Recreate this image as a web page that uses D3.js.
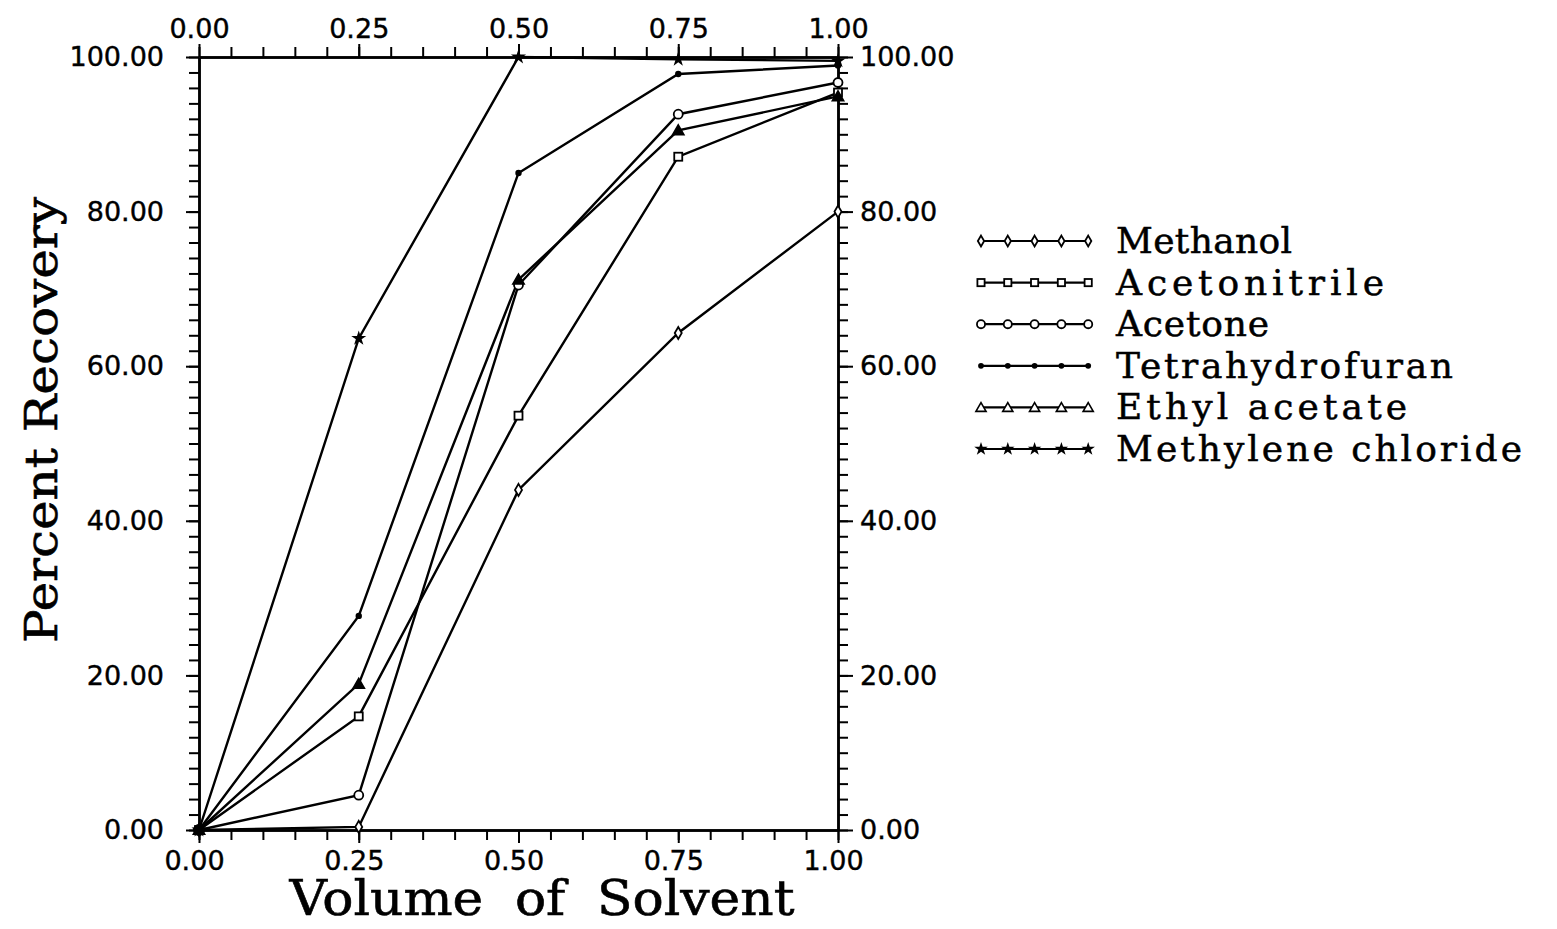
<!DOCTYPE html>
<html>
<head>
<meta charset="utf-8">
<script src="https://cdn.jsdelivr.net/npm/d3@7/dist/d3.min.js"></script>
<style>
body { margin: 0; background: #fff; }
</style>
</head>
<body>
<svg id="svg" width="1557" height="929"></svg>
<script>
// volume of solvent (x) and percent recovery for each solvent
const volume = [0, 0.25, 0.5, 0.75, 1.0]
const seriesNames = ['Methanol', 'Acetonitrile', 'Acetone', 'Tetrahydrofuran', 'Ethyl acetate', 'Methylene chloride']
const methanol = [0, 0.4, 44.0, 64.3, 80.0]
const acetonitrile = [0, 14.7, 53.6, 87.1, 95.4]
const acetone = [0, 4.5, 70.5, 92.6, 96.7]
const tetrahydrofuran = [0, 27.7, 85.0, 97.8, 98.9]
const ethylAcetate = [0, 18.9, 71.2, 90.5, 94.9]
const methyleneChloride = [0, 63.6, 100, 99.7, 99.5]
const xTicks = [0, 0.25, 0.5, 0.75, 1.0]
const yTicks = [0, 20, 40, 60, 80, 100]

const seriesValues = [methanol, acetonitrile, acetone, tetrahydrofuran, ethylAcetate, methyleneChloride]
const markerKinds = ['diamond', 'square', 'circle', 'dot', 'triangle', 'star']

let svg = d3.select('#svg')
const width = +svg.attr('width')
const height = +svg.attr('height')

const margin = { top: 57, bottom: 99, left: 199, right: 719 }
const innerWidth = width - margin.left - margin.right
const innerHeight = height - margin.top - margin.bottom

const xScale = d3.scaleLinear().domain([0, 1]).range([0, innerWidth])
const yScale = d3.scaleLinear().domain([0, 100]).range([innerHeight, 0])

const group = svg.append('g')
    .attr('transform', `translate(${margin.left}, ${margin.top})`)

const fmt = d3.format('.2f')
const xMinor = d3.range(0, 1.0001, 0.05)
const yMinor = d3.range(0, 100.001, 2)
const tickFont = "'DejaVu Sans', sans-serif"
const titleFont = "'DejaVu Serif', serif"

function styleAxis(g) {
    g.select('.domain').attr('stroke-width', 2.5)
    g.selectAll('.tick line').attr('stroke-width', 2)
    g.selectAll('.tick text')
        .attr('font-family', tickFont)
        .attr('font-size', 27)
        .attr('fill', '#000')
        .attr('stroke', '#000')
        .attr('stroke-width', 0.4)
}
// minor ticks: no labels at all
function minorOnly(g) {
    styleAxis(g)
    g.selectAll('.tick text').remove()
}

// bottom
group.append('g').attr('transform', `translate(0, ${innerHeight})`)
    .call(d3.axisBottom(xScale).tickValues(xMinor).tickSize(10).tickSizeOuter(0))
    .call(minorOnly)
group.append('g').attr('transform', `translate(0, ${innerHeight})`)
    .call(d3.axisBottom(xScale).tickValues(xTicks).tickSize(13).tickPadding(8).tickFormat(fmt).tickSizeOuter(0))
    .call(styleAxis)
    .selectAll('.tick text').attr('dx', -5)

// top
group.append('g')
    .call(d3.axisTop(xScale).tickValues(xMinor).tickSize(10).tickSizeOuter(0))
    .call(minorOnly)
group.append('g')
    .call(d3.axisTop(xScale).tickValues(xTicks).tickSize(13).tickPadding(6).tickFormat(fmt).tickSizeOuter(0))
    .call(styleAxis)

// left
group.append('g')
    .call(d3.axisLeft(yScale).tickValues(yMinor).tickSize(10).tickSizeOuter(0))
    .call(minorOnly)
group.append('g')
    .call(d3.axisLeft(yScale).tickValues(yTicks).tickSize(13).tickPadding(22).tickFormat(fmt).tickSizeOuter(0))
    .call(styleAxis)

// right
group.append('g').attr('transform', `translate(${innerWidth}, 0)`)
    .call(d3.axisRight(yScale).tickValues(yMinor).tickSize(10).tickSizeOuter(0))
    .call(minorOnly)
group.append('g').attr('transform', `translate(${innerWidth}, 0)`)
    .call(d3.axisRight(yScale).tickValues(yTicks).tickSize(15).tickPadding(7).tickFormat(fmt).tickSizeOuter(0))
    .call(styleAxis)

// axis titles
svg.append('text')
    .text('Percent Recovery')
    .attr('font-family', titleFont)
    .attr('font-size', 44)
    .attr('stroke', '#000')
    .attr('stroke-width', 0.6)
    .attr('text-anchor', 'middle')
    .attr('textLength', 446)
    .attr('lengthAdjust', 'spacingAndGlyphs')
    .attr('transform', 'translate(57, 420) rotate(-90)')

svg.append('text')
    .text('Volume of Solvent')
    .attr('font-family', titleFont)
    .attr('font-size', 48)
    .attr('word-spacing', 14)
    .attr('stroke', '#000')
    .attr('stroke-width', 0.6)
    .attr('text-anchor', 'middle')
    .attr('textLength', 505)
    .attr('lengthAdjust', 'spacingAndGlyphs')
    .attr('x', 542)
    .attr('y', 915)

function drawMarker(sel, kind, x, y, s) {
    if (kind === 'diamond') {
        sel.append('path')
            .attr('d', `M${x},${y - 6 * s}L${x + 3.5 * s},${y}L${x},${y + 6 * s}L${x - 3.5 * s},${y}Z`)
            .attr('fill', '#fff').attr('stroke', '#000').attr('stroke-width', 1.8)
    } else if (kind === 'square') {
        sel.append('rect')
            .attr('x', x - 4 * s).attr('y', y - 4 * s)
            .attr('width', 8 * s).attr('height', 8 * s)
            .attr('fill', '#fff').attr('stroke', '#000').attr('stroke-width', 1.8)
    } else if (kind === 'circle') {
        sel.append('circle')
            .attr('cx', x).attr('cy', y).attr('r', 4.5 * s)
            .attr('fill', '#fff').attr('stroke', '#000').attr('stroke-width', 1.8)
    } else if (kind === 'dot') {
        sel.append('circle')
            .attr('cx', x).attr('cy', y).attr('r', 3.2 * s)
            .attr('fill', '#000')
    } else if (kind === 'triangle') {
        sel.append('path')
            .attr('d', d3.symbol(d3.symbolTriangle, 55 * s * s)())
            .attr('transform', `translate(${x}, ${y + 1})`)
            .attr('fill', s < 1 ? '#fff' : '#000').attr('stroke', '#000').attr('stroke-width', 1.6)
    } else if (kind === 'star') {
        sel.append('path')
            .attr('d', d3.symbol(d3.symbolStar, 70 * s * s)())
            .attr('transform', `translate(${x}, ${y})`)
            .attr('fill', '#000')
    }
}

const line = d3.line()
    .x((d, i) => xScale(volume[i]))
    .y(d => yScale(d))

seriesValues.forEach(vals => {
    group.append('path')
        .datum(vals)
        .attr('d', line)
        .attr('fill', 'none')
        .attr('stroke', '#000')
        .attr('stroke-width', 2.4)
})
seriesValues.forEach((vals, k) => {
    vals.forEach((v, i) => drawMarker(group, markerKinds[k], xScale(volume[i]), yScale(v), 1))
})
// all series meet at the origin
group.append('circle').attr('cx', xScale(0)).attr('cy', yScale(0)).attr('r', 6).attr('fill', '#000')

// legend (the original lettering sits on a roughly even grid per character)
const legendCharWidth = 23
const legend = svg.append('g').attr('transform', 'translate(977, 241)')
seriesNames.forEach((name, k) => {
    const row = legend.append('g').attr('transform', `translate(0, ${k * 41.6})`)
    row.append('line')
        .attr('x1', 3).attr('x2', 110)
        .attr('stroke', '#000').attr('stroke-width', 2.2)
    d3.range(5).forEach(j => drawMarker(row, markerKinds[k], 4 + j * 26.8, 0, 0.9))
    row.append('text')
        .text(name)
        .attr('x', 139)
        .attr('y', 12)
        .attr('font-family', titleFont)
        .attr('font-size', 36)
        .attr('stroke', '#000')
        .attr('stroke-width', 0.5)
        .attr('textLength', name.length * legendCharWidth - 8)
        .attr('lengthAdjust', 'spacing')
})
</script>
</body>
</html>
